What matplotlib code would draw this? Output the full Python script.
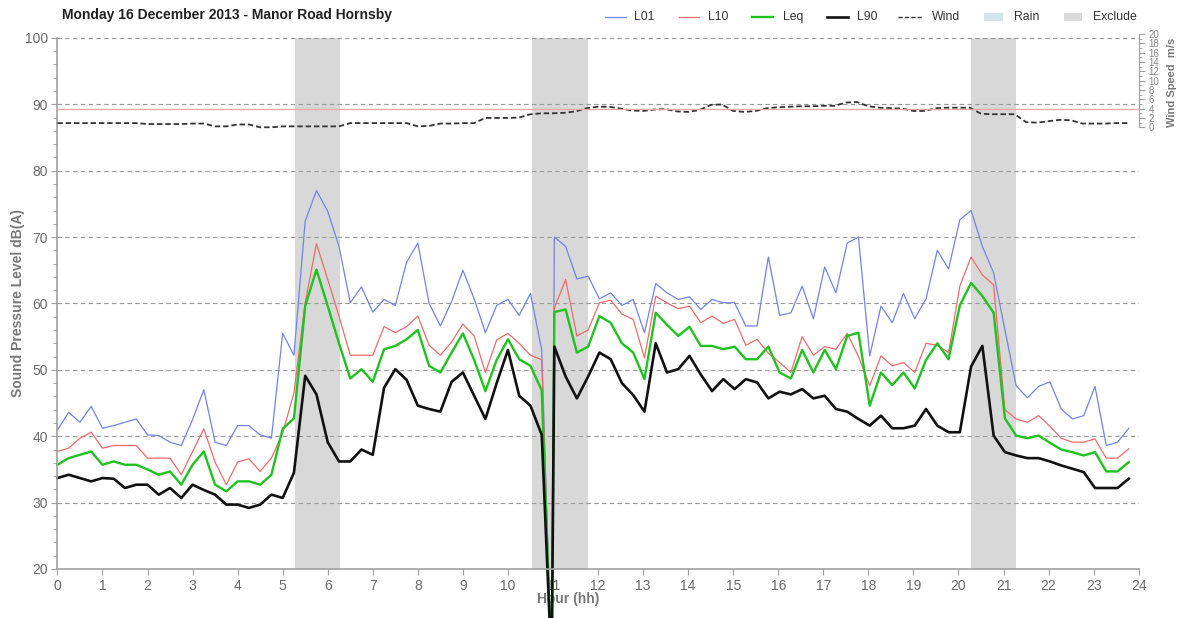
import numpy as np
import matplotlib
matplotlib.use("Agg")
import matplotlib.pyplot as plt
from matplotlib.lines import Line2D
from matplotlib.patches import Rectangle

plt.rcParams["font.family"] = ["Liberation Sans", "DejaVu Sans"]

# 15-minute intervals, 00:00 to 23:45
hours = np.arange(96) * 0.25
restart_shift = 0.03   # logger runs a couple of minutes late after the drop-out
dropout_index = 44
dropout_hour = 10.97
dropout_level = 5.0

l01 = [40.9, 43.6, 42.1, 44.5, 41.2, 41.6, 42.1, 42.6, 40.2, 40.1, 39.1, 38.6,
       42.5, 47.0, 39.1, 38.6, 41.6, 41.6, 40.2, 39.7, 55.5, 52.2, 72.4, 77.0,
       73.9, 68.6, 60.1, 62.5, 58.7, 60.6, 59.7, 66.2, 69.1, 60.0, 56.6, 60.3,
       65.0, 60.7, 55.6, 59.7, 60.6, 58.2, 61.5, 53.0, 70.0, 68.6, 63.7, 64.1,
       60.7, 61.6, 59.7, 60.6, 55.6, 63.0, 61.6, 60.6, 61.0, 59.1, 60.6, 60.1,
       60.1, 56.6, 56.6, 67.0, 58.2, 58.6, 62.6, 57.7, 65.5, 61.6, 69.1, 70.0,
       52.1, 59.6, 57.1, 61.5, 57.7, 60.7, 68.0, 65.2, 72.6, 74.0, 68.6, 64.6,
       56.0, 47.6, 45.8, 47.5, 48.2, 44.1, 42.6, 43.1, 47.5, 38.6, 39.1, 41.2]

l10 = [37.7, 38.2, 39.7, 40.6, 38.2, 38.6, 38.6, 38.6, 36.7, 36.7, 36.7, 34.2,
       37.7, 41.1, 36.1, 32.7, 36.1, 36.6, 34.7, 36.7, 40.5, 46.5, 60.1, 69.0,
       63.6, 58.1, 52.2, 52.2, 52.2, 56.5, 55.6, 56.5, 58.1, 53.7, 52.2, 54.2,
       56.9, 55.1, 49.6, 54.5, 55.5, 54.0, 52.2, 51.5, 59.3, 63.6, 55.1, 56.0,
       60.1, 60.5, 58.4, 57.6, 51.8, 61.1, 60.1, 59.2, 59.6, 57.1, 58.1, 57.0,
       57.6, 53.7, 54.6, 52.5, 51.1, 49.6, 55.0, 52.2, 53.5, 53.1, 55.5, 52.0,
       47.6, 52.1, 50.6, 51.1, 49.6, 54.0, 53.7, 52.6, 62.6, 67.0, 64.3, 62.8,
       44.0, 42.6, 42.1, 43.1, 41.5, 39.7, 39.1, 39.1, 39.6, 36.7, 36.7, 38.1]

leq = [35.7, 36.7, 37.2, 37.7, 35.7, 36.2, 35.7, 35.7, 35.0, 34.2, 34.7, 32.7,
       35.7, 37.7, 32.7, 31.7, 33.2, 33.2, 32.7, 34.2, 41.1, 42.7, 59.6, 65.1,
       59.6, 54.0, 48.7, 50.1, 48.2, 53.1, 53.6, 54.6, 56.0, 50.6, 49.6, 52.6,
       55.5, 51.5, 46.8, 51.5, 54.6, 51.6, 50.6, 46.9, 58.7, 59.1, 52.6, 53.5,
       58.1, 57.1, 54.0, 52.6, 48.6, 58.6, 56.8, 55.1, 56.5, 53.6, 53.6, 53.1,
       53.5, 51.6, 51.6, 53.5, 49.6, 48.7, 53.0, 49.6, 53.0, 50.1, 55.1, 55.6,
       44.6, 49.6, 47.7, 49.6, 47.2, 51.5, 54.0, 51.6, 59.7, 63.1, 61.1, 58.6,
       42.7, 40.1, 39.7, 40.1, 39.0, 38.0, 37.6, 37.1, 37.6, 34.7, 34.7, 36.1]

l90 = [33.7, 34.2, 33.7, 33.2, 33.7, 33.6, 32.2, 32.7, 32.7, 31.2, 32.2, 30.7,
       32.7, 31.9, 31.2, 29.7, 29.7, 29.2, 29.7, 31.2, 30.7, 34.5, 49.1, 46.3,
       39.1, 36.2, 36.2, 38.0, 37.2, 47.3, 50.1, 48.5, 44.6, 44.1, 43.7, 48.2,
       49.6, 46.1, 42.6, 48.0, 53.0, 46.1, 44.6, 40.2, 53.5, 49.0, 45.7, 49.0,
       52.6, 51.6, 48.0, 46.2, 43.7, 54.0, 49.6, 50.1, 52.1, 49.3, 46.8, 48.6,
       47.1, 48.6, 48.1, 45.7, 46.7, 46.3, 47.1, 45.7, 46.1, 44.1, 43.7, 42.6,
       41.6, 43.1, 41.2, 41.2, 41.6, 44.1, 41.6, 40.6, 40.6, 50.5, 53.6, 40.1,
       37.6, 37.1, 36.7, 36.7, 36.2, 35.6, 35.1, 34.6, 32.2, 32.2, 32.2, 33.6]

wind = [0.9, 0.9, 0.9, 0.9, 0.9, 0.9, 0.9, 0.9, 0.7, 0.7, 0.7, 0.7,
        0.8, 0.8, 0.2, 0.2, 0.6, 0.6, 0.0, 0.0, 0.2, 0.2, 0.2, 0.2,
        0.2, 0.2, 0.9, 0.9, 0.9, 0.9, 0.9, 0.9, 0.2, 0.3, 0.8, 0.8,
        0.9, 0.9, 2.0, 2.0, 2.0, 2.1, 2.8, 3.0, 3.0, 3.1, 3.4, 4.1,
        4.4, 4.4, 4.0, 3.6, 3.5, 3.8, 3.9, 3.4, 3.3, 3.7, 4.8, 4.9,
        3.5, 3.3, 3.5, 4.1, 4.3, 4.4, 4.5, 4.5, 4.6, 4.6, 5.3, 5.4,
        4.5, 4.2, 4.1, 4.0, 3.5, 3.5, 4.1, 4.2, 4.2, 4.2, 2.9, 2.8,
        2.8, 2.8, 1.1, 1.0, 1.3, 1.6, 1.5, 0.8, 0.8, 0.8, 0.9, 0.9]

exclude_periods = [(5.28, 6.27), (10.53, 11.78), (20.28, 21.27)]
wind_threshold = 4.0

series = [
    ("L01", l01, "#7383e8", 0.9),
    ("L10", l10, "#ee6b6b", 0.9),
    ("Leq", leq, "#1fc21f", 1.7),
    ("L90", l90, "#111111", 1.9),
]

W, H = 1184, 618
x0, x1 = 57.4, 1138.7
y_top, y_bot = 37.9, 569.0

fig = plt.figure(figsize=(W / 100, H / 100), dpi=100)
ax = fig.add_axes([x0 / W, 1 - y_bot / H, (x1 - x0) / W, (y_bot - y_top) / H])

# measurement times, with the logger drop-out spike
t = hours.copy()
t[dropout_index:] += restart_shift
t_full = np.insert(t, dropout_index, dropout_hour)

for start, end in exclude_periods:
    ax.axvspan(start, end, color="#d8d8d8", lw=0, zorder=0.5)

for name, values, color, lw in series:
    v = np.insert(np.array(values), dropout_index, dropout_level)
    ax.plot(t_full, v, color=color, lw=lw, clip_on=False, zorder=2)

ax.set_xlim(0, 24)
ax.set_ylim(20, 100)
ax.set_xticks(range(0, 25))
ax.set_yticks(range(20, 101, 10))
ax.set_yticks(range(20, 101, 2), minor=True)
ax.yaxis.grid(True, color="#9a9a9a", linestyle=(0, (4, 3)), lw=0.8)
ax.set_axisbelow(True)
for side in ["top", "right"]:
    ax.spines[side].set_visible(False)
for side in ["left", "bottom"]:
    ax.spines[side].set_color("#a0a0a0")
    ax.spines[side].set_linewidth(1.2)
ax.tick_params(axis="both", which="major", colors="#a0a0a0", labelcolor="#6a6a6a",
               labelsize=10, length=4, pad=3)
ax.tick_params(axis="y", which="minor", colors="#a0a0a0", length=3)
ax.set_xlabel("Hour (hh)", fontsize=10, fontweight="bold", color="#777777")
ax.xaxis.set_label_coords((568 - x0) / (x1 - x0), -(592 - y_bot) / (y_bot - y_top))

# wind speed axis, occupying the top strip on the right
w_top = 33.9
px_per_ms = 4.67
ax2 = fig.add_axes([x0 / W, 1 - y_bot / H, (x1 - x0) / W, (y_bot - w_top) / H], sharex=ax)
ax2.patch.set_visible(False)
ax2.set_ylim(20 - (y_bot - w_top) / px_per_ms, 20)
ax2.plot(hours, wind, color="#333333", lw=1.3, linestyle=(0, (3, 1.6)))
ax2.axhline(wind_threshold, color="#f2a3a3", lw=0.9)
for side in ["top", "left", "bottom"]:
    ax2.spines[side].set_visible(False)
ax2.spines["right"].set_bounds(0, 20)
ax2.spines["right"].set_color("#a0a0a0")
ax2.yaxis.tick_right()
ax2.set_yticks(range(0, 21, 2))
ax2.set_yticks(range(0, 21, 1), minor=True)
ax2.tick_params(axis="y", which="major", colors="#a0a0a0", labelcolor="#888888",
                labelsize=7, length=4, pad=3)
ax2.tick_params(axis="y", which="minor", colors="#a0a0a0", length=2)
ax2.tick_params(axis="x", which="both", bottom=False, labelbottom=False)

fig.text(18 / W, 1 - 303 / H, "Sound Pressure Level dB(A)", rotation=90,
         ha="center", va="center", fontsize=10, fontweight="bold", color="#777777")
fig.text(1172 / W, 1 - 82 / H, "Wind Speed  m/s", rotation=90,
         ha="center", va="center", fontsize=8, fontweight="bold", color="#777777")
fig.text(62 / W, 1 - 15 / H, "Monday 16 December 2013 - Manor Road Hornsby",
         ha="left", va="center", fontsize=10, fontweight="bold", color="#222222")

# legend row along the top
ly = 1 - 17 / H
legend_lines = [
    ("L01", 605, 626, 634, "#7383e8", 0.9, "-"),
    ("L10", 679, 699, 708, "#ee6b6b", 0.9, "-"),
    ("Leq", 752, 773, 783, "#1fc21f", 1.7, "-"),
    ("L90", 827, 848, 857, "#111111", 1.9, "-"),
    ("Wind", 898, 923, 932, "#333333", 1.0, (0, (3, 1.6))),
]
for label, a, b, tx, color, lw, ls in legend_lines:
    fig.add_artist(Line2D([a / W, b / W], [ly, ly], color=color, lw=lw, linestyle=ls,
                          transform=fig.transFigure))
    fig.text(tx / W, ly, label, ha="left", va="center", fontsize=8.8, color="#333333")
for label, a, b, tx, color in [("Rain", 984, 1003, 1014, "#d5e3ea"),
                               ("Exclude", 1064, 1082, 1093, "#d9d9d9")]:
    fig.add_artist(Rectangle((a / W, ly - 4 / H), (b - a) / W, 8 / H, color=color,
                             lw=0, transform=fig.transFigure))
    fig.text(tx / W, ly, label, ha="left", va="center", fontsize=8.8, color="#333333")

fig.savefig("out.png", dpi=100)
